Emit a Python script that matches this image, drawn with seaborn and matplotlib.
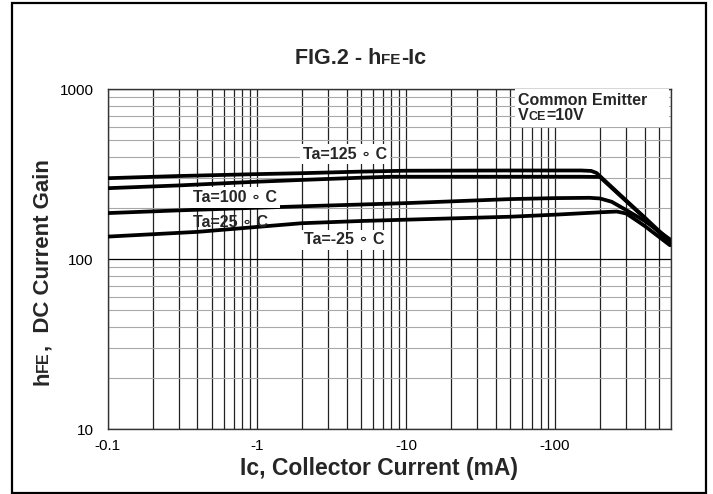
import numpy as np
import pandas as pd
import matplotlib
matplotlib.use('Agg')
import matplotlib.pyplot as plt
import matplotlib.ticker as mticker
from matplotlib.patches import Rectangle
from matplotlib.transforms import IdentityTransform
import seaborn as sns

# Dati (Ic in mA, valori assoluti)
ic_125 = [0.1, 0.3, 1, 2, 5, 10, 50, 150, 175, 190, 300, 400, 590]
hfe_125 = [300, 309, 317, 321, 328, 332, 333, 333, 331, 322, 222, 176, 128]

ic_100 = [0.1, 0.3, 1, 2, 5, 8, 50, 150, 200, 300, 400, 590]
hfe_100 = [262, 272, 286, 293, 302, 306, 306, 306, 305, 220, 175, 124]

ic_25 = [0.1, 0.3, 1, 2, 5, 10, 50, 100, 170, 200, 240, 300, 400, 590]
hfe_25 = [187, 194, 201, 205, 210, 214, 226, 229, 230, 228, 218, 195, 168, 131]

ic_m25 = [0.1, 0.4, 1, 2, 5, 10, 50, 100, 200, 260, 300, 350, 400, 590]
hfe_m25 = [136, 145, 155, 163, 168, 171, 178, 183, 189, 191, 186, 170, 157, 121]

curve_names = ['Ta=125 ∘ C', 'Ta=100 ∘ C', 'Ta=25 ∘ C', 'Ta=-25 ∘ C']
x_ticks = [0.1, 1, 10, 100]
y_ticks = [10, 100, 1000]

frames = []
for name, xs, ys in zip(curve_names, [ic_125, ic_100, ic_25, ic_m25],
                        [hfe_125, hfe_100, hfe_25, hfe_m25]):
    frames.append(pd.DataFrame({'Ic': xs, 'hFE': ys, 'curve': name}))
df = pd.concat(frames, ignore_index=True)

sns.set_style('white')
plt.rcParams['font.family'] = ['Liberation Sans', 'DejaVu Sans']

W, H = 713, 494
fig = plt.figure(figsize=(W / 100, H / 100), dpi=100)

# Cornice esterna
fig.patches.append(Rectangle((12 / W, 1.5 / H), 694 / W, 489 / H, transform=fig.transFigure,
                             fill=False, edgecolor='black', linewidth=1.6))

ax = fig.add_axes([107.7 / W, (H - 429.3) / H, 563.3 / W, 340 / H])

sns.lineplot(data=df, x='Ic', y='hFE', hue='curve', palette=['black'] * 4,
             linewidth=2.7, legend=False, sort=False, estimator=None, ax=ax, zorder=4)

ax.set_xscale('log')
ax.set_yscale('log')
ax.set_xlim(0.1, 600)
ax.set_ylim(10, 1000)
ax.set_xticks(x_ticks)
ax.set_yticks(y_ticks)
ax.xaxis.set_minor_locator(mticker.LogLocator(base=10, subs=np.arange(2, 10)))
ax.yaxis.set_minor_locator(mticker.LogLocator(base=10, subs=np.arange(2, 10)))
ax.xaxis.set_major_formatter(mticker.FuncFormatter(lambda v, p: f'-{v:g}'))
ax.yaxis.set_major_formatter(mticker.FuncFormatter(lambda v, p: f'{v:g}'))
ax.xaxis.set_minor_formatter(mticker.NullFormatter())
ax.yaxis.set_minor_formatter(mticker.NullFormatter())
ax.tick_params(which='both', length=0, labelsize=11, colors='black')
ax.tick_params(axis='x', pad=7)
ax.tick_params(axis='y', pad=10)
ax.set_xlabel('')
ax.set_ylabel('')

# Griglia
ax.grid(which='both', axis='x', color='#222222', linewidth=0.9)
ax.grid(which='major', axis='y', color='black', linewidth=0.9)
ax.grid(which='minor', axis='y', color='#a8a8a8', linewidth=0.8)
ax.set_axisbelow(True)
for s in ax.spines.values():
    s.set_color('#333333')
    s.set_linewidth(1.0)

# Etichette delle curve
box = dict(facecolor='white', edgecolor='none', pad=2)
lab = dict(fontsize=11.5, fontweight='bold', va='center', ha='left', zorder=5)
ax.text(2.04, 416, curve_names[0], bbox=box, **lab)
ax.text(0.373, 231, curve_names[1], bbox=box, **lab)
ax.text(0.373, 165, curve_names[2], **lab)
ax.text(2.07, 130, curve_names[3], bbox=box, **lab)

# Riquadro "Common Emitter"
ax.add_patch(Rectangle((0.723, 0.889), 0.274, 0.111, transform=ax.transAxes,
                       facecolor='white', edgecolor='none', zorder=3))

renderer = fig.canvas.get_renderer()


def pieces(x, y, parts, rot=0, **kw):
    # testo composto da pezzi con dimensioni diverse (coordinate in pixel)
    for s, fs in parts:
        t = fig.text(x, y, s, fontsize=fs, rotation=rot, rotation_mode='anchor',
                     ha='left', va='baseline', transform=IdentityTransform(), **kw)
        bb = t.get_window_extent(renderer)
        if rot:
            y += bb.height
        else:
            x += bb.width


pieces(518, H - 105, [('Common Emitter', 11.5)], fontweight='bold', zorder=6)
pieces(518, H - 119.5, [('V', 11.5), ('CE', 9), ('=10V', 11.5)], fontweight='bold', zorder=6)

# Titolo
pieces(295, H - 63.5, [('FIG.2 - h', 15.5), ('FE', 11), ('-Ic', 15.5)], fontweight='bold')

# Etichetta asse y
pieces(48, H - 385, [('h', 16), ('FE', 11.5), (',  DC Current Gain', 16)], rot=90, fontweight='bold')

# Etichetta asse x
fig.text(379 / W, (H - 468) / H, 'Ic, Collector Current (mA)', fontsize=16.5, fontweight='bold',
         ha='center', va='center')

plt.savefig('out.png', dpi=100)
